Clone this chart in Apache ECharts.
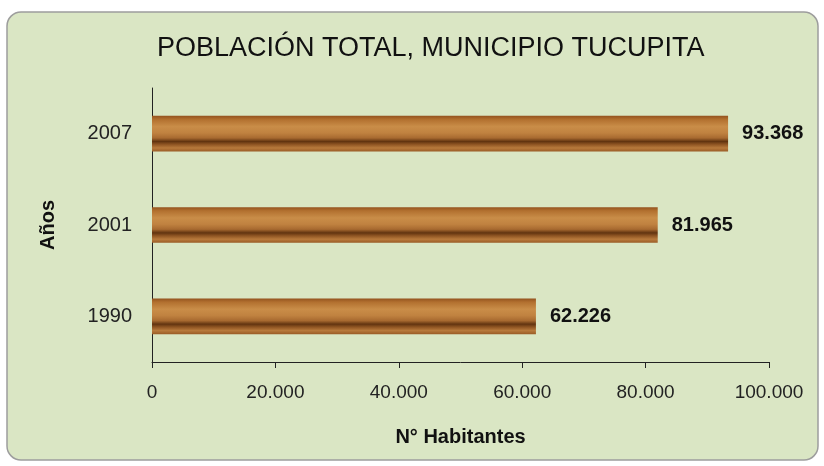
<!DOCTYPE html>
<html>
<head>
<meta charset="utf-8">
<script src="https://cdn.jsdelivr.net/npm/echarts@6/dist/echarts.min.js"></script>
<style>
  html, body { margin: 0; padding: 0; background: #fff; }
  #chart { width: 824px; height: 466px; }
</style>
</head>
<body>
<div id="chart"></div>
<script>
  // datos
  var years = ['1990', '2001', '2007'];
  var habitantes = [62226, 81965, 93368];
  var xTicks = [0, 20000, 40000, 60000, 80000, 100000];

  function fmt(v) {
    return String(v).replace(/\B(?=(\d{3})+(?!\d))/g, '.');
  }

  // textura madera (aprox.)
  var wood = new echarts.graphic.LinearGradient(0, 0, 0, 1, [
    { offset: 0, color: '#94531f' },
    { offset: 0.1, color: '#b2702f' },
    { offset: 0.3, color: '#c98d48' },
    { offset: 0.48, color: '#c08240' },
    { offset: 0.62, color: '#a86a30' },
    { offset: 0.72, color: '#623410' },
    { offset: 0.8, color: '#8e5422' },
    { offset: 0.9, color: '#b87a3c' },
    { offset: 1, color: '#9a5c26' }
  ]);

  var font = 'Liberation Sans';

  var chart = echarts.init(document.getElementById('chart'));
  chart.setOption({
    backgroundColor: '#fff',
    graphic: [
      {
        type: 'rect',
        z: -10,
        shape: { x: 7, y: 12, width: 811, height: 448, r: 14 },
        style: { fill: '#dae6c4', stroke: '#9d9d9d', lineWidth: 1.5 }
      }
    ],
    title: {
      text: 'POBLACIÓN TOTAL, MUNICIPIO TUCUPITA',
      left: 152,
      top: 30,
      textStyle: {
        fontFamily: font,
        fontSize: 27,
        fontWeight: 'normal',
        color: '#111'
      }
    },
    grid: { left: 152, right: 55, top: 88, bottom: 104 },
    xAxis: {
      type: 'value',
      min: 0,
      max: 100000,
      interval: 20000,
      name: 'N° Habitantes',
      nameLocation: 'middle',
      nameGap: 65,
      nameTextStyle: { fontFamily: font, fontSize: 20, fontWeight: 'bold', color: '#111' },
      axisLine: { show: true, lineStyle: { color: '#222', width: 1 } },
      axisTick: { show: true, length: 6, lineStyle: { color: '#222' } },
      axisLabel: {
        margin: 21,
        fontFamily: font,
        fontSize: 19,
        color: '#222',
        formatter: function (v) { return fmt(v); }
      },
      splitLine: { show: false }
    },
    yAxis: {
      type: 'category',
      data: years,
      name: 'Años',
      nameLocation: 'middle',
      nameGap: 94,
      nameRotate: 90,
      nameTextStyle: { fontFamily: font, fontSize: 20, fontWeight: 'bold', color: '#111' },
      axisLine: { show: true, lineStyle: { color: '#222', width: 1 } },
      axisTick: { show: false },
      axisLabel: { margin: 20, fontFamily: font, fontSize: 20, color: '#222' }
    },
    series: [
      {
        type: 'bar',
        data: habitantes,
        barWidth: '39%',
        itemStyle: { color: wood },
        label: {
          show: true,
          position: 'right',
          distance: 14,
          fontFamily: font,
          fontSize: 20,
          fontWeight: 'bold',
          color: '#111',
          formatter: function (p) { return fmt(p.value); }
        }
      }
    ]
  });
</script>
</body>
</html>
